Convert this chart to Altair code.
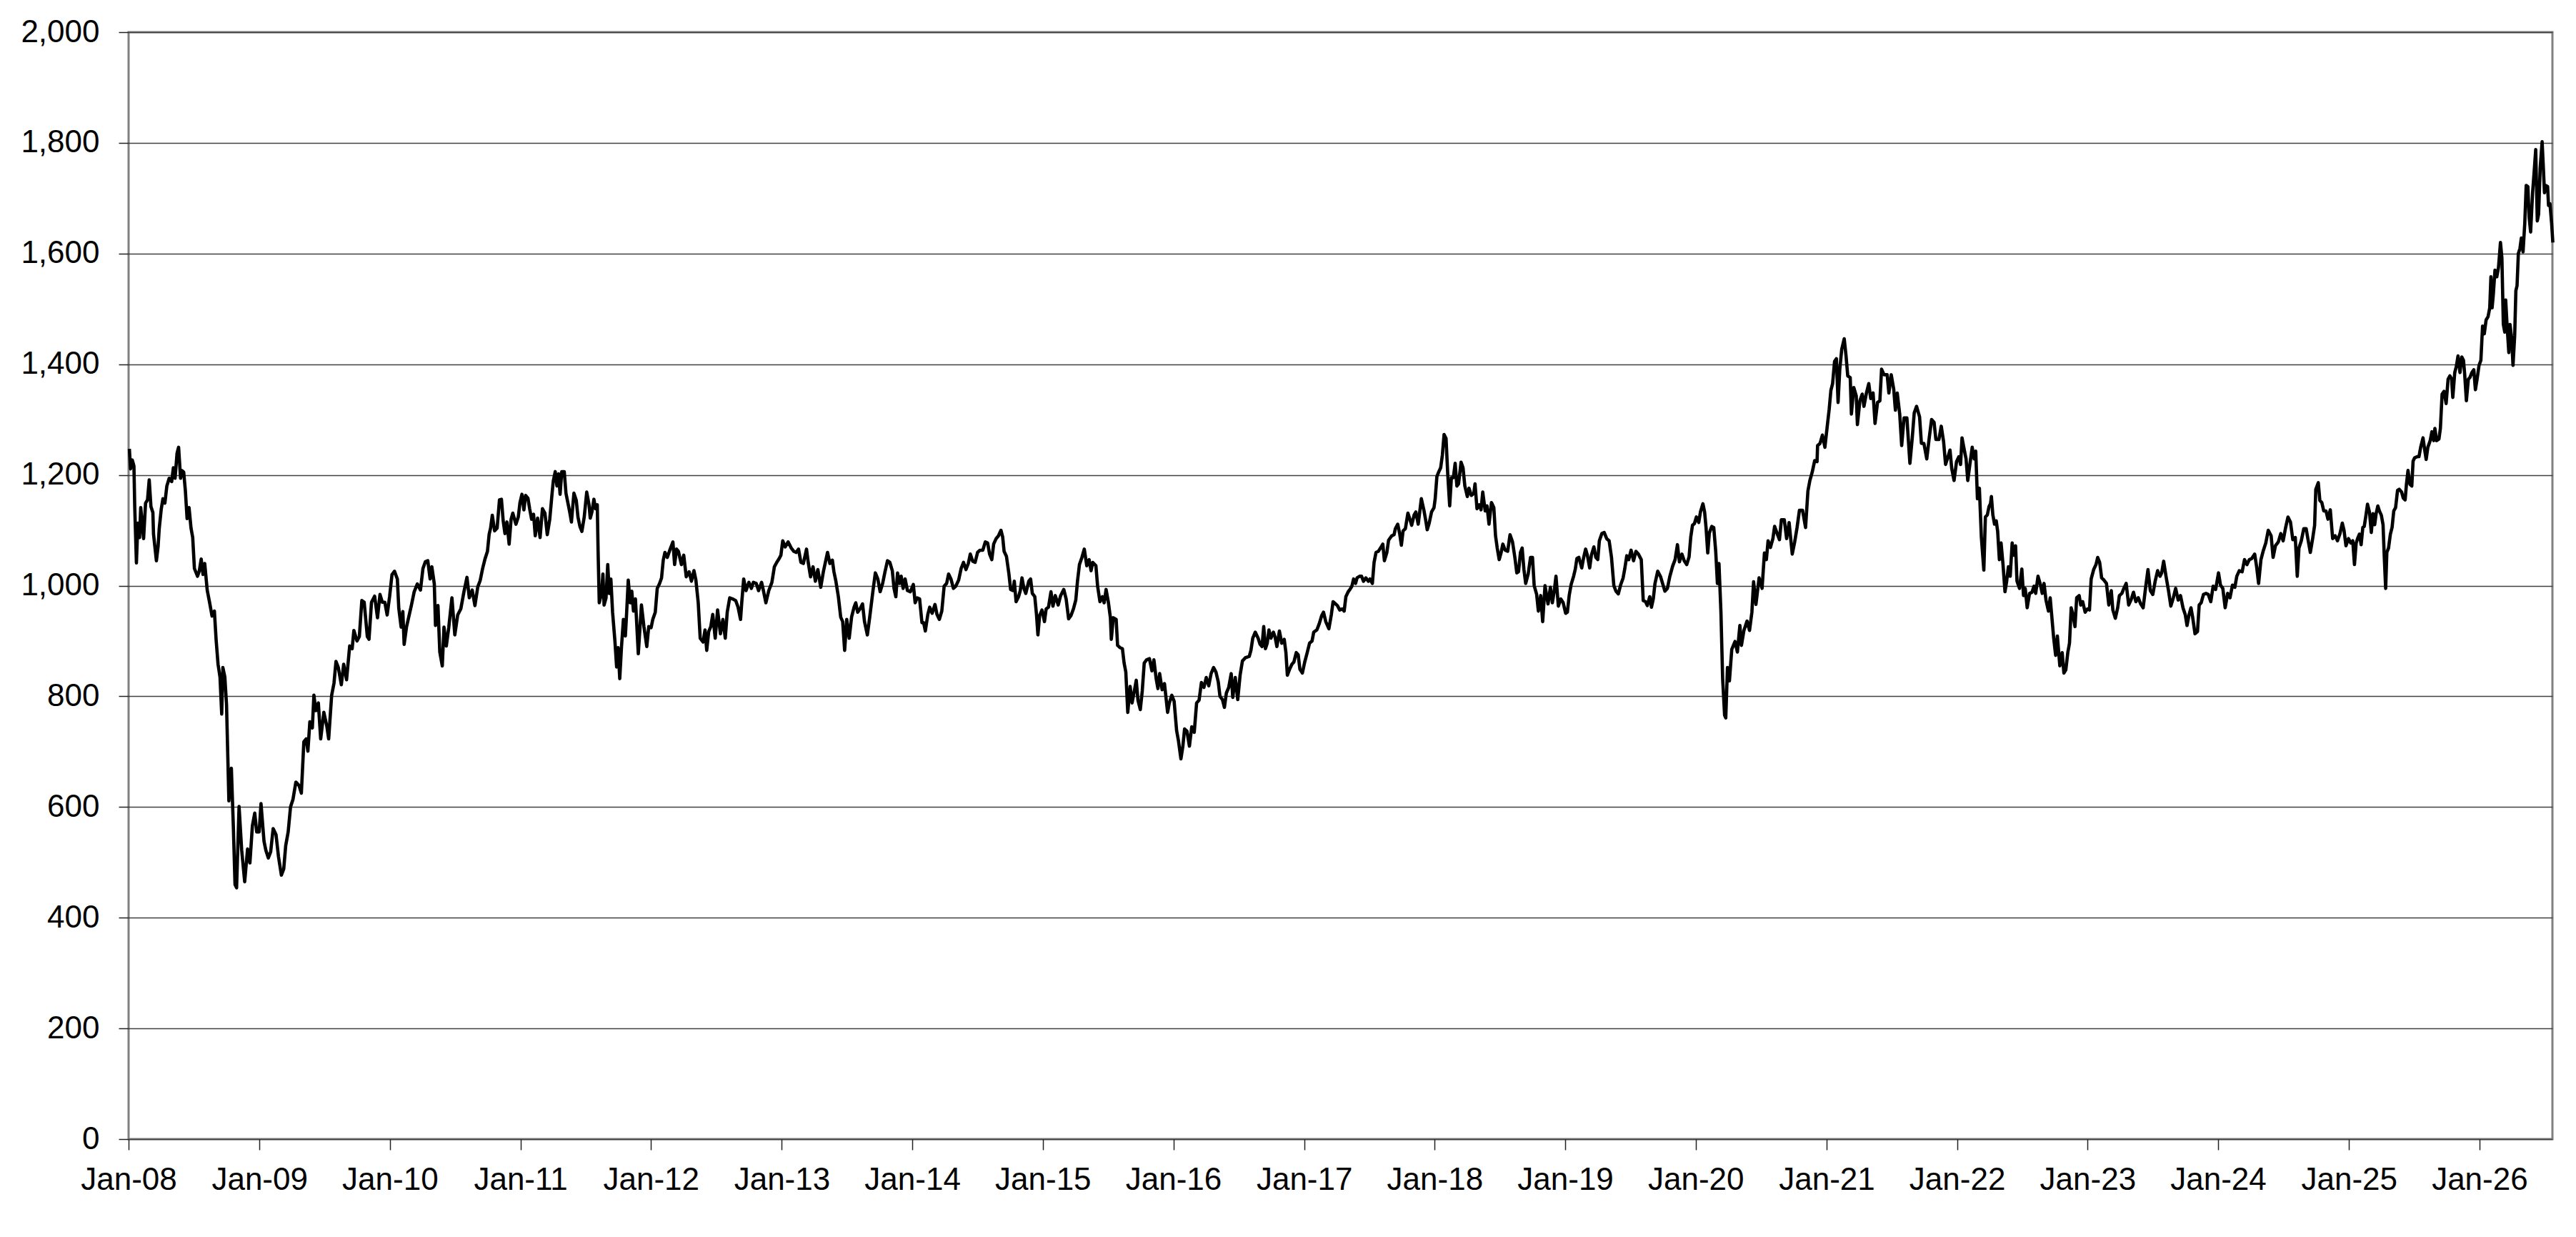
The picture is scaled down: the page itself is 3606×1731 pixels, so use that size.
import altair as alt
import pandas as pd

# (decimal year, index value)
seg_2008_2010 = [(2008.006,1247),(2008.015,1211),(2008.028,1227),(2008.041,1216),(2008.047,1143),(2008.060,1041),(2008.071,1113),(2008.084,1087),(2008.093,1141),(2008.115,1085),(2008.130,1149),(2008.145,1155),(2008.158,1191),(2008.171,1143),(2008.186,1132),(2008.191,1093),(2008.213,1045),(2008.226,1071),(2008.235,1104),(2008.250,1138),(2008.263,1157),(2008.278,1149),(2008.293,1180),(2008.311,1194),(2008.330,1188),(2008.343,1213),(2008.356,1194),(2008.371,1239),(2008.383,1250),(2008.398,1194),(2008.408,1208),(2008.422,1205),(2008.435,1171),(2008.448,1121),(2008.463,1141),(2008.478,1104),(2008.491,1087),(2008.504,1031),(2008.528,1017),(2008.541,1026),(2008.556,1048),(2008.570,1020),(2008.583,1040),(2008.602,992),(2008.620,970),(2008.639,945),(2008.657,954),(2008.670,903),(2008.685,858),(2008.700,835),(2008.713,768),(2008.722,852),(2008.737,835),(2008.750,785),(2008.768,611),(2008.787,670),(2008.802,566),(2008.815,460),(2008.827,454),(2008.846,601),(2008.866,522),(2008.889,465),(2008.911,524),(2008.929,499),(2008.948,566),(2008.966,589),(2008.981,555),(2009.000,555),(2009.014,606),(2009.037,538),(2009.051,522),(2009.070,508),(2009.088,519),(2009.107,561),(2009.129,550),(2009.148,510),(2009.170,477),(2009.188,488),(2009.203,530),(2009.222,555),(2009.240,600),(2009.259,614),(2009.281,645),(2009.305,639),(2009.323,625),(2009.342,718),(2009.360,723),(2009.373,701),(2009.388,754),(2009.407,743),(2009.419,802),(2009.434,774),(2009.453,788),(2009.471,723),(2009.495,771),(2009.518,746),(2009.532,723),(2009.555,802),(2009.573,824),(2009.588,863),(2009.606,852),(2009.629,821),(2009.647,858),(2009.669,830),(2009.693,891),(2009.712,886),(2009.725,919),(2009.749,900),(2009.767,908),(2009.786,973),(2009.804,970),(2009.828,908),(2009.841,903),(2009.860,970),(2009.884,981),(2009.906,942),(2009.925,984),(2009.943,970),(2009.962,970),(2009.980,947),(2009.999,981),(2010.017,1020),(2010.036,1026),(2010.058,1012),(2010.069,959),(2010.087,925),(2010.100,953),(2010.110,894),(2010.128,925),(2010.147,945),(2010.165,964),(2010.187,989),(2010.211,1003),(2010.235,992),(2010.254,1031),(2010.272,1043),(2010.291,1045),(2010.309,1012),(2010.322,1034),(2010.341,1003),(2010.350,928),(2010.369,964),(2010.383,880),(2010.402,855),(2010.415,925),(2010.433,891),(2010.452,925),(2010.476,978),(2010.498,911),(2010.520,947),(2010.544,958),(2010.568,989),(2010.591,1015),(2010.609,978),(2010.631,992),(2010.652,964),(2010.674,998),(2010.692,1009),(2010.711,1031),(2010.729,1048),(2010.748,1062),(2010.761,1093),(2010.772,1104),(2010.785,1127),(2010.803,1099),(2010.822,1104),(2010.840,1155)]

seg_2010_2013 = [(2010.855,1156),(2010.868,1118),(2010.882,1094),(2010.897,1115),(2010.914,1075),(2010.929,1120),(2010.942,1131),(2010.966,1111),(2010.984,1124),(2010.997,1150),(2011.012,1165),(2011.027,1137),(2011.040,1163),(2011.058,1158),(2011.071,1139),(2011.086,1120),(2011.101,1129),(2011.114,1090),(2011.132,1122),(2011.151,1087),(2011.169,1139),(2011.188,1131),(2011.206,1092),(2011.225,1120),(2011.243,1167),(2011.252,1189),(2011.267,1206),(2011.280,1180),(2011.293,1202),(2011.304,1165),(2011.317,1206),(2011.336,1206),(2011.349,1167),(2011.367,1146),(2011.378,1133),(2011.391,1115),(2011.410,1167),(2011.428,1154),(2011.441,1124),(2011.456,1107),(2011.471,1098),(2011.489,1124),(2011.508,1169),(2011.526,1146),(2011.535,1122),(2011.548,1133),(2011.563,1156),(2011.576,1139),(2011.589,1146),(2011.595,1064),(2011.604,969),(2011.622,986),(2011.632,1021),(2011.641,965),(2011.656,978),(2011.669,1038),(2011.681,986),(2011.693,1012),(2011.706,952),(2011.724,900),(2011.737,853),(2011.748,888),(2011.761,832),(2011.774,888),(2011.789,939),(2011.804,909),(2011.813,948),(2011.826,1010),(2011.841,969),(2011.853,990),(2011.866,954),(2011.881,976),(2011.903,877),(2011.927,965),(2011.946,926),(2011.968,890),(2011.983,926),(2012.001,924),(2012.014,939),(2012.033,952),(2012.048,995),(2012.066,1004),(2012.081,1014),(2012.094,1046),(2012.107,1060),(2012.125,1051),(2012.144,1064),(2012.168,1079),(2012.181,1038),(2012.196,1066),(2012.210,1062),(2012.233,1038),(2012.251,1055),(2012.270,1016),(2012.292,1025),(2012.310,1008),(2012.329,1027),(2012.344,1010),(2012.362,969),(2012.377,905),(2012.399,898),(2012.414,920),(2012.427,883),(2012.442,917),(2012.458,926),(2012.473,948),(2012.492,905),(2012.510,956),(2012.532,913),(2012.551,939),(2012.569,905),(2012.584,952),(2012.603,978),(2012.625,976),(2012.649,973),(2012.667,961),(2012.686,939),(2012.695,969),(2012.710,1012),(2012.728,991),(2012.750,1006),(2012.769,995),(2012.784,1006),(2012.806,1004),(2012.824,991),(2012.847,1006),(2012.861,991),(2012.880,969),(2012.902,991),(2012.926,1006),(2012.945,1034),(2012.963,1042),(2012.982,1049),(2012.995,1055),(2013.009,1081),(2013.028,1070),(2013.050,1079),(2013.074,1068),(2013.093,1062),(2013.111,1060),(2013.130,1066),(2013.148,1042),(2013.167,1040),(2013.191,1066),(2013.204,1042),(2013.222,1016),(2013.241,1034),(2013.259,1008),(2013.278,1029),(2013.300,997),(2013.320,1025),(2013.339,1046),(2013.352,1060),(2013.370,1040),(2013.389,1046),(2013.401,1025),(2013.416,1008),(2013.435,980),(2013.453,943),(2013.468,935),(2013.483,883),(2013.499,939),(2013.518,905),(2013.536,943),(2013.555,961),(2013.568,969),(2013.583,952),(2013.601,958),(2013.620,967),(2013.635,935),(2013.657,911),(2013.675,943)]

seg_2013_2016 = [(2013.700,991),(2013.718,1023),(2013.737,1012),(2013.755,989),(2013.774,1004),(2013.792,1025),(2013.811,1045),(2013.829,1042),(2013.848,1027),(2013.861,995),(2013.875,980),(2013.888,1023),(2013.903,1004),(2013.916,1017),(2013.931,995),(2013.946,1012),(2013.964,991),(2013.986,989),(2014.009,1002),(2014.023,969),(2014.038,978),(2014.057,976),(2014.075,933),(2014.088,933),(2014.101,918),(2014.120,948),(2014.134,961),(2014.153,950),(2014.175,966),(2014.190,948),(2014.208,939),(2014.227,954),(2014.245,999),(2014.264,1004),(2014.279,1021),(2014.297,1012),(2014.316,995),(2014.334,999),(2014.356,1010),(2014.375,1031),(2014.393,1042),(2014.412,1029),(2014.430,1040),(2014.445,1057),(2014.464,1044),(2014.482,1042),(2014.501,1060),(2014.519,1064),(2014.541,1064),(2014.560,1079),(2014.578,1077),(2014.593,1057),(2014.610,1047),(2014.624,1075),(2014.643,1085),(2014.661,1090),(2014.680,1100),(2014.693,1088),(2014.704,1062),(2014.722,1053),(2014.741,1021),(2014.754,993),(2014.772,991),(2014.782,1008),(2014.796,971),(2014.815,980),(2014.828,991),(2014.841,1014),(2014.856,995),(2014.870,986),(2014.893,1008),(2014.907,1012),(2014.920,986),(2014.939,980),(2014.952,948),(2014.963,911),(2014.976,946),(2014.994,956),(2015.013,935),(2015.026,958),(2015.044,961),(2015.063,989),(2015.078,963),(2015.096,982),(2015.118,965),(2015.137,982),(2015.161,993),(2015.179,976),(2015.198,940),(2015.216,946),(2015.235,958),(2015.253,974),(2015.266,1008),(2015.281,1038),(2015.300,1051),(2015.318,1066),(2015.337,1036),(2015.355,1047),(2015.370,1027),(2015.383,1042),(2015.407,1036),(2015.420,999),(2015.438,971),(2015.457,980),(2015.470,969),(2015.485,993),(2015.503,969),(2015.518,942),(2015.525,903),(2015.540,942),(2015.562,939),(2015.573,892),(2015.592,888),(2015.610,886),(2015.623,860),(2015.636,844),(2015.651,771),(2015.669,818),(2015.684,788),(2015.703,812),(2015.716,829),(2015.729,793),(2015.747,776),(2015.762,810),(2015.777,860),(2015.795,866),(2015.817,868),(2015.836,846),(2015.851,866),(2015.869,831),(2015.882,814),(2015.895,841),(2015.914,812),(2015.932,823),(2015.956,771),(2015.969,788),(2015.988,802),(2016.006,791),(2016.025,738),(2016.039,720),(2016.058,687),(2016.073,710),(2016.086,741),(2016.104,737),(2016.123,710),(2016.141,745),(2016.160,735),(2016.178,788),(2016.197,793),(2016.215,825),(2016.234,816),(2016.252,834),(2016.271,819),(2016.289,841),(2016.308,852),(2016.326,844),(2016.344,826),(2016.357,800),(2016.376,794),(2016.391,780),(2016.406,806),(2016.424,816),(2016.443,841),(2016.455,798),(2016.474,834),(2016.493,794),(2016.511,838),(2016.529,864)]

seg_2016_2019 = [(2016.553,870),(2016.581,872),(2016.594,883),(2016.608,905),(2016.627,916),(2016.649,905),(2016.664,894),(2016.679,890),(2016.692,926),(2016.705,886),(2016.719,896),(2016.732,920),(2016.747,905),(2016.766,916),(2016.779,907),(2016.793,890),(2016.812,918),(2016.830,896),(2016.849,903),(2016.862,879),(2016.873,838),(2016.890,849),(2016.908,858),(2016.923,862),(2016.941,879),(2016.956,875),(2016.969,849),(2016.988,842),(2017.006,862),(2017.025,879),(2017.043,896),(2017.062,900),(2017.075,916),(2017.099,920),(2017.117,931),(2017.136,946),(2017.150,952),(2017.167,935),(2017.191,922),(2017.210,948),(2017.223,971),(2017.237,968),(2017.256,964),(2017.274,956),(2017.293,958),(2017.308,954),(2017.321,980),(2017.339,989),(2017.352,993),(2017.367,999),(2017.380,1012),(2017.395,1004),(2017.407,1014),(2017.426,1017),(2017.441,1017),(2017.456,1008),(2017.474,1014),(2017.493,1008),(2017.505,1012),(2017.524,1004),(2017.537,1042),(2017.552,1060),(2017.570,1062),(2017.589,1069),(2017.604,1075),(2017.616,1045),(2017.635,1060),(2017.648,1082),(2017.672,1090),(2017.690,1092),(2017.700,1103),(2017.718,1111),(2017.733,1094),(2017.746,1073),(2017.759,1099),(2017.777,1103),(2017.796,1131),(2017.811,1120),(2017.825,1109),(2017.844,1128),(2017.857,1133),(2017.875,1111),(2017.899,1157),(2017.918,1137),(2017.931,1120),(2017.944,1101),(2017.959,1113),(2017.977,1133),(2017.996,1141),(2018.005,1157),(2018.018,1197),(2018.033,1206),(2018.047,1213),(2018.060,1236),(2018.073,1273),(2018.088,1266),(2018.101,1202),(2018.116,1144),(2018.129,1195),(2018.144,1195),(2018.158,1221),(2018.171,1180),(2018.184,1184),(2018.203,1223),(2018.218,1213),(2018.232,1180),(2018.251,1161),(2018.264,1176),(2018.282,1163),(2018.301,1167),(2018.310,1184),(2018.325,1139),(2018.343,1146),(2018.356,1137),(2018.369,1169),(2018.388,1135),(2018.402,1144),(2018.417,1111),(2018.436,1150),(2018.454,1141),(2018.467,1090),(2018.480,1068),(2018.495,1047),(2018.510,1060),(2018.523,1075),(2018.541,1064),(2018.560,1062),(2018.578,1092),(2018.597,1079),(2018.615,1051),(2018.630,1023),(2018.643,1025),(2018.658,1060),(2018.671,1068),(2018.684,1030),(2018.698,1004),(2018.717,1021),(2018.735,1051),(2018.750,1051),(2018.763,1000),(2018.782,984),(2018.795,954),(2018.813,982),(2018.828,935),(2018.846,1000),(2018.869,967),(2018.887,997),(2018.902,969),(2018.917,991),(2018.930,1017),(2018.948,963),(2018.967,976),(2018.985,969),(2019.004,950),(2019.017,952),(2019.031,982),(2019.046,1002),(2019.065,1017),(2019.078,1030),(2019.090,1049),(2019.105,1051),(2019.127,1032),(2019.142,1051),(2019.157,1066),(2019.170,1055),(2019.188,1032),(2019.201,1055),(2019.220,1070),(2019.235,1051),(2019.250,1047),(2019.262,1081),(2019.281,1094),(2019.299,1096),(2019.318,1085),(2019.337,1081),(2019.355,1051),(2019.373,1000)]

seg_2019_2022 = [(2019.389,990),(2019.407,985),(2019.426,1002),(2019.444,1014),(2019.457,1031),(2019.472,1054),(2019.487,1047),(2019.505,1064),(2019.524,1045),(2019.542,1062),(2019.561,1057),(2019.583,1047),(2019.598,973),(2019.616,971),(2019.629,964),(2019.648,980),(2019.661,961),(2019.675,976),(2019.688,1004),(2019.709,1026),(2019.731,1016),(2019.746,1004),(2019.764,990),(2019.783,995),(2019.801,1016),(2019.823,1035),(2019.842,1047),(2019.860,1074),(2019.875,1043),(2019.894,1057),(2019.912,1045),(2019.931,1038),(2019.949,1052),(2019.962,1088),(2019.975,1109),(2019.990,1112),(2020.005,1124),(2020.023,1114),(2020.036,1133),(2020.055,1148),(2020.068,1133),(2020.079,1105),(2020.092,1059),(2020.104,1095),(2020.123,1107),(2020.138,1105),(2020.153,1062),(2020.166,1004),(2020.178,1040),(2020.193,952),(2020.206,832),(2020.221,766),(2020.230,761),(2020.243,852),(2020.258,828),(2020.276,885),(2020.301,899),(2020.319,880),(2020.338,928),(2020.350,892),(2020.369,919),(2020.393,936),(2020.412,919),(2020.430,952),(2020.443,1007),(2020.461,966),(2020.485,1014),(2020.508,995),(2020.526,1059),(2020.541,1047),(2020.554,1081),(2020.572,1069),(2020.591,1085),(2020.604,1107),(2020.619,1097),(2020.641,1083),(2020.656,1119),(2020.678,1119),(2020.696,1085),(2020.715,1114),(2020.739,1057),(2020.757,1078),(2020.776,1105),(2020.794,1136),(2020.818,1136),(2020.841,1105),(2020.859,1171),(2020.874,1190),(2020.892,1205),(2020.911,1226),(2020.929,1224),(2020.933,1253),(2020.952,1257),(2020.970,1272),(2020.989,1250),(2021.007,1288),(2021.022,1319),(2021.035,1353),(2021.048,1365),(2021.063,1405),(2021.077,1410),(2021.090,1331),(2021.103,1391),(2021.118,1427),(2021.137,1446),(2021.151,1415),(2021.164,1379),(2021.183,1376),(2021.192,1310),(2021.210,1358),(2021.229,1343),(2021.238,1291),(2021.257,1334),(2021.275,1346),(2021.288,1324),(2021.307,1348),(2021.325,1365),(2021.340,1338),(2021.358,1348),(2021.373,1293),(2021.392,1331),(2021.410,1334),(2021.423,1391),(2021.442,1381),(2021.466,1381),(2021.479,1348),(2021.497,1381),(2021.516,1355),(2021.529,1317),(2021.543,1348),(2021.562,1310),(2021.577,1253),(2021.595,1303),(2021.617,1303),(2021.640,1221),(2021.658,1267),(2021.673,1312),(2021.691,1324),(2021.714,1305),(2021.728,1257),(2021.747,1257),(2021.769,1229),(2021.788,1267),(2021.806,1300),(2021.825,1295),(2021.839,1264),(2021.862,1264),(2021.880,1288),(2021.898,1260),(2021.913,1219),(2021.932,1233),(2021.947,1245),(2021.960,1212),(2021.978,1190),(2021.997,1224),(2022.015,1233),(2022.028,1219),(2022.039,1267),(2022.058,1243),(2022.070,1229),(2022.083,1190),(2022.098,1217),(2022.117,1250),(2022.132,1229),(2022.144,1243),(2022.157,1157),(2022.172,1176),(2022.187,1088),(2022.206,1028),(2022.218,1124)]

seg_2022_2025 = [(2022.233,1128),(2022.246,1143),(2022.257,1148),(2022.264,1161),(2022.275,1128),(2022.288,1111),(2022.301,1117),(2022.312,1098),(2022.325,1047),(2022.338,1077),(2022.353,1038),(2022.368,989),(2022.381,1008),(2022.394,1034),(2022.408,1017),(2022.423,1077),(2022.436,1055),(2022.449,1072),(2022.460,1008),(2022.479,995),(2022.497,1030),(2022.510,982),(2022.523,995),(2022.538,960),(2022.556,986),(2022.575,988),(2022.590,999),(2022.603,986),(2022.621,1017),(2022.640,1001),(2022.653,986),(2022.667,1004),(2022.682,974),(2022.701,954),(2022.714,978),(2022.727,943),(2022.741,905),(2022.756,874),(2022.769,909),(2022.788,855),(2022.806,879),(2022.819,842),(2022.834,848),(2022.849,879),(2022.862,896),(2022.875,960),(2022.889,947),(2022.904,926),(2022.917,978),(2022.936,982),(2022.948,965),(2022.963,971),(2022.982,952),(2023.000,958),(2023.015,956),(2023.028,1012),(2023.047,1029),(2023.065,1038),(2023.078,1051),(2023.093,1042),(2023.108,1014),(2023.126,1010),(2023.145,1004),(2023.163,965),(2023.182,991),(2023.194,956),(2023.213,941),(2023.231,960),(2023.244,982),(2023.263,986),(2023.278,995),(2023.296,1004),(2023.315,965),(2023.333,974),(2023.352,988),(2023.370,971),(2023.389,978),(2023.407,967),(2023.426,960),(2023.444,995),(2023.463,1029),(2023.481,991),(2023.500,984),(2023.518,1008),(2023.537,1027),(2023.555,1017),(2023.568,1023),(2023.583,1044),(2023.601,1017),(2023.620,991),(2023.638,963),(2023.657,978),(2023.675,995),(2023.694,974),(2023.712,982),(2023.731,960),(2023.749,947),(2023.762,928),(2023.777,947),(2023.792,960),(2023.805,943),(2023.823,913),(2023.842,917),(2023.855,965),(2023.870,969),(2023.888,984),(2023.907,986),(2023.925,984),(2023.944,971),(2023.962,999),(2023.981,993),(2024.003,1023),(2024.018,1001),(2024.036,995),(2024.054,960),(2024.073,986),(2024.091,978),(2024.110,1001),(2024.128,997),(2024.143,1017),(2024.162,1027),(2024.184,1025),(2024.202,1047),(2024.221,1038),(2024.239,1047),(2024.258,1049),(2024.280,1057),(2024.295,1034),(2024.310,1004),(2024.328,1047),(2024.347,1064),(2024.365,1077),(2024.384,1100),(2024.406,1090),(2024.421,1051),(2024.439,1072),(2024.461,1079),(2024.480,1094),(2024.498,1081),(2024.517,1105),(2024.535,1124),(2024.554,1115),(2024.572,1083),(2024.591,1087),(2024.606,1017),(2024.619,1068),(2024.637,1081),(2024.656,1103),(2024.674,1103),(2024.687,1085),(2024.706,1060),(2024.724,1085),(2024.739,1109),(2024.748,1174),(2024.767,1186),(2024.779,1154),(2024.794,1150),(2024.809,1135),(2024.826,1135),(2024.841,1120),(2024.859,1137),(2024.877,1085),(2024.896,1090),(2024.914,1081),(2024.933,1094),(2024.951,1113),(2024.964,1100),(2024.979,1072),(2024.998,1085),(2025.016,1077),(2025.031,1081),(2025.044,1038),(2025.057,1077)]

seg_2025_2026 = [(2025.068,1085),(2025.082,1093),(2025.095,1074),(2025.108,1105),(2025.119,1107),(2025.132,1127),(2025.144,1147),(2025.159,1133),(2025.173,1096),(2025.186,1130),(2025.199,1110),(2025.210,1130),(2025.223,1144),(2025.235,1135),(2025.250,1127),(2025.263,1110),(2025.272,1054),(2025.283,995),(2025.292,1060),(2025.305,1068),(2025.319,1093),(2025.332,1105),(2025.345,1135),(2025.359,1141),(2025.374,1172),(2025.387,1174),(2025.405,1169),(2025.418,1158),(2025.432,1155),(2025.442,1183),(2025.454,1208),(2025.469,1183),(2025.483,1180),(2025.493,1225),(2025.505,1231),(2025.524,1233),(2025.538,1233),(2025.551,1250),(2025.569,1267),(2025.582,1245),(2025.593,1228),(2025.606,1250),(2025.624,1262),(2025.637,1278),(2025.651,1262),(2025.660,1284),(2025.673,1262),(2025.691,1265),(2025.702,1284),(2025.715,1346),(2025.730,1351),(2025.746,1329),(2025.761,1373),(2025.775,1379),(2025.788,1373),(2025.797,1340),(2025.812,1385),(2025.824,1396),(2025.837,1415),(2025.852,1385),(2025.866,1413),(2025.879,1407),(2025.888,1382),(2025.901,1334),(2025.916,1373),(2025.928,1376),(2025.943,1385),(2025.958,1390),(2025.970,1354),(2025.983,1373),(2025.998,1398),(2026.012,1407),(2026.025,1469),(2026.038,1455),(2026.052,1480),(2026.067,1486),(2026.080,1502),(2026.089,1558),(2026.098,1502),(2026.107,1525),(2026.120,1570),(2026.134,1558),(2026.147,1575),(2026.162,1620),(2026.173,1592),(2026.184,1472),(2026.195,1458),(2026.202,1516),(2026.213,1469),(2026.226,1421),(2026.235,1472),(2026.248,1446),(2026.258,1398),(2026.271,1452),(2026.280,1533),(2026.289,1542),(2026.299,1600),(2026.311,1609),(2026.322,1628),(2026.335,1603),(2026.348,1654),(2026.359,1723),(2026.372,1721),(2026.381,1667),(2026.393,1639),(2026.408,1710),(2026.421,1751),(2026.432,1788),(2026.444,1659),(2026.454,1671),(2026.466,1754),(2026.481,1802),(2026.490,1757),(2026.499,1710),(2026.508,1723),(2026.523,1721),(2026.530,1687),(2026.541,1690),(2026.554,1654),(2026.563,1620)]

y_ticks = list(range(0, 2001, 200))
x_tick_years = list(range(2008, 2027))

segments = [seg_2008_2010, seg_2010_2013, seg_2013_2016, seg_2016_2019,
            seg_2019_2022, seg_2022_2025, seg_2025_2026]
rows = [p for seg in segments for p in seg]
df = pd.DataFrame(rows, columns=["t", "value"])
base = pd.Timestamp("2008-01-01")
df["date"] = (base + pd.to_timedelta((df["t"] - 2008.0) * 365.25, unit="D")).dt.strftime("%Y-%m-%dT%H:%M:%SZ")
df = df[["date", "value"]]

FONT = "Liberation Sans"

chart = alt.Chart(df).mark_line(color="black", strokeWidth=4.6, strokeJoin="round").encode(
    x=alt.X(
        "date:T",
        scale=alt.Scale(
            type="utc",
            domain=[alt.DateTime(year=2008, month=1, date=1, utc=True),
                    alt.DateTime(year=2026, month=7, date=24, utc=True)],
            nice=False,
        ),
        axis=alt.Axis(
            values=[alt.DateTime(year=y, month=1, date=1, utc=True) for y in x_tick_years],
            format="%b-%y",
            title=None,
            grid=False,
            tickSize=15,
            labelPadding=20,
            labelAngle=0,
            labelFlush=False,
            labelOverlap=False,
        ),
    ),
    y=alt.Y(
        "value:Q",
        scale=alt.Scale(domain=[0, 2000], nice=False, zero=True),
        axis=alt.Axis(
            values=y_ticks,
            format=",.0f",
            title=None,
            grid=True,
            tickSize=14,
            labelPadding=27,
            labelFlush=False,
            labelOverlap=False,
        ),
    ),
).properties(
    width=3393,
    height=1549,
    autosize=alt.AutoSizeParams(type="none"),
    padding={"left": 172, "top": 37, "right": 20, "bottom": 120},
).configure_view(
    stroke="#808080",
    strokeWidth=3,
).configure_axis(
    domain=False,
    labelFont=FONT,
    labelFontSize=44,
    labelColor="black",
    tickColor="#222222",
    tickWidth=1.5,
    gridColor="#404040",
    gridWidth=1.5,
)

chart.save("out.html", embed_options={"renderer": "svg", "actions": False})
